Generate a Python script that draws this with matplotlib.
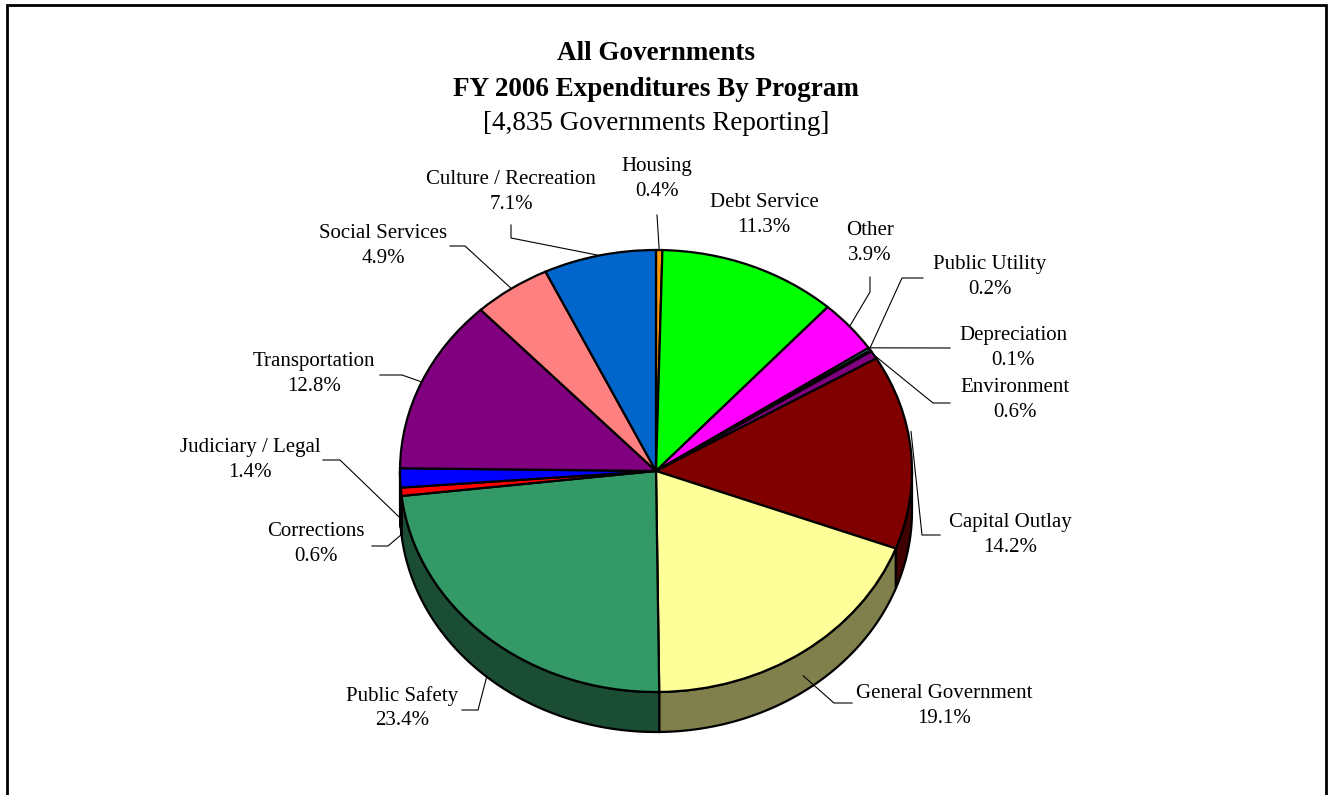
import matplotlib
matplotlib.use("Agg")
import matplotlib.pyplot as plt
from matplotlib.patches import Polygon, Rectangle
import matplotlib.colors as mcolors
import numpy as np

# data, clockwise from 12 o'clock
programs = ["Housing", "Debt Service", "Other", "Public Utility", "Depreciation",
            "Environment", "Capital Outlay", "General Government", "Public Safety",
            "Corrections", "Judiciary / Legal", "Transportation", "Social Services",
            "Culture / Recreation"]
shares = [0.4, 11.3, 3.9, 0.2, 0.1, 0.6, 14.2, 19.1, 23.4, 0.6, 1.4, 12.8, 4.9, 7.1]
colors = ["#FF9900", "#00FF00", "#FF00FF", "#33CCCC", "#003366", "#800080", "#800000",
          "#FFFF99", "#339966", "#FF0000", "#0000FF", "#800080", "#FF8080", "#0066CC"]

title_lines = ["All Governments", "FY 2006 Expenditures By Program"]
subtitle = "[4,835 Governments Reporting]"

# layout (pixels)
W, H = 1332, 795
CX, CY, RX, RY, DEPTH = 656, 471, 256, 221, 40

# label centre, leader elbows (pixels), vertical offset of leader end on the pie
label_pos = {
    "Housing": (657, 179), "Debt Service": (764, 215), "Other": (870, 243),
    "Public Utility": (990, 277), "Depreciation": (1013, 348),
    "Environment": (1015, 400), "Capital Outlay": (1010, 535),
    "General Government": (944, 706), "Public Safety": (402, 708),
    "Corrections": (316, 544), "Judiciary / Legal": (250, 460),
    "Transportation": (314, 374), "Social Services": (383, 246),
    "Culture / Recreation": (511, 192),
}
leaders = {
    "Housing": ([(657, 215)], 0),
    "Other": ([(870, 277), (870, 292)], 0),
    "Public Utility": ([(923, 278), (902, 278)], 0),
    "Depreciation": ([(950, 348)], -3),
    "Environment": ([(950, 403), (933, 403)], 0),
    "Capital Outlay": ([(940, 535), (922, 535)], -20),
    "General Government": ([(852, 703), (834, 703)], 24),
    "Public Safety": ([(462, 710), (478, 710)], 40),
    "Corrections": ([(372, 546), (388, 546)], 43),
    "Judiciary / Legal": ([(323, 460), (340, 460)], 40),
    "Transportation": ([(380, 375), (402, 375)], 0),
    "Social Services": ([(450, 246), (465, 246)], 0),
    "Culture / Recreation": ([(511, 225), (511, 238)], 0),
}


def px(x, y):
    return (x - CX) / RX, (CY - y) / RY


fig = plt.figure(figsize=(W / 100, H / 100), dpi=100)
ax = fig.add_axes([0, 0, 1, 1])

wedges, _ = ax.pie(shares, colors=colors, startangle=90, counterclock=False,
                   radius=1, center=(0, 0),
                   wedgeprops=dict(edgecolor="black", linewidth=1.6, zorder=3))

# side walls of the front half
d = DEPTH / RY
cum = np.concatenate([[0], np.cumsum(shares)]) / sum(shares) * 360
for i, c in enumerate(colors):
    a1 = 90 - cum[i + 1]
    a2 = 90 - cum[i]
    lo, hi = max(a1, -180), min(a2, 0)
    if hi <= lo:
        continue
    t = np.radians(np.linspace(lo, hi, 80))
    top = np.column_stack([np.cos(t), np.sin(t)])
    bot = np.column_stack([np.cos(t), np.sin(t) - d])[::-1]
    dark = tuple(0.5 * v for v in mcolors.to_rgb(c))
    ax.add_patch(Polygon(np.vstack([top, bot]), closed=True, facecolor=dark,
                         edgecolor="black", linewidth=1.6, zorder=2))

# labels and leader lines
for i, name in enumerate(programs):
    x, y = label_pos[name]
    ax.text(*px(x, y), f"{name}\n{shares[i]:.1f}%", ha="center", va="center",
            fontsize=15, family="Liberation Serif", linespacing=1.42, zorder=5)
    if name in leaders:
        elbows, dy = leaders[name]
        mid = np.radians(90 - (cum[i] + cum[i + 1]) / 2)
        end = (np.cos(mid), np.sin(mid) - dy / RY)
        pts = [px(*p) for p in elbows] + [end]
        ax.plot([p[0] for p in pts], [p[1] for p in pts], color="black",
                linewidth=0.8, zorder=4)

# title
for k, line in enumerate(title_lines):
    ax.text(*px(656, 54 + 35 * k), line, ha="center", va="center", fontsize=19.5,
            fontweight="bold", family="Liberation Serif")
ax.text(*px(656, 124), subtitle, ha="center", va="center", fontsize=19.5,
        family="Liberation Serif")

ax.set_aspect("auto")
ax.set_xlim(px(0, 0)[0], px(W, 0)[0])
ax.set_ylim(px(0, H)[1], px(0, 0)[1])
ax.axis("off")

# chart border
x0, y0 = px(7, 5)
x1, y1 = px(1326, 800)
ax.add_patch(Rectangle((x0, y1), x1 - x0, y0 - y1, fill=False, edgecolor="black",
                       linewidth=2, clip_on=False, zorder=6))

fig.savefig("out.png", dpi=100)
